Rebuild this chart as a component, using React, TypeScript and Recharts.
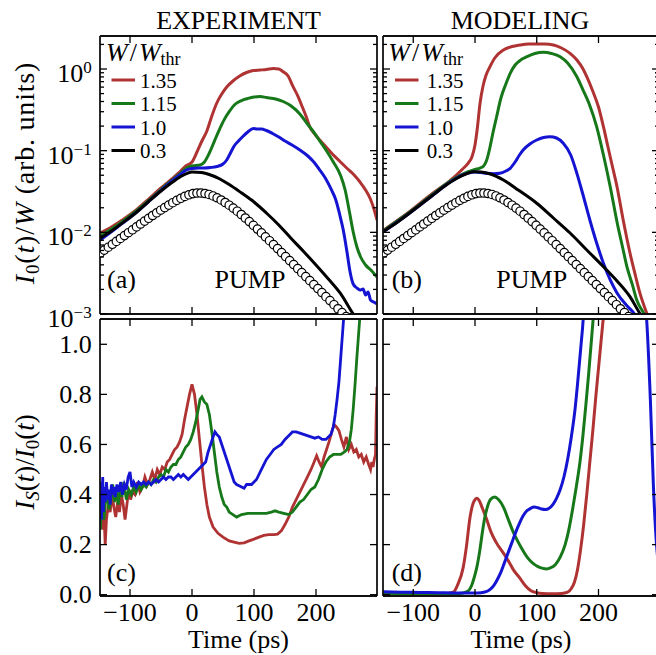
import React from 'react';
import { ComposedChart, Line, XAxis, YAxis } from 'recharts';

const FONT = "'Liberation Serif', 'Times New Roman', Times, serif";
const RED = '#b03333';
const GREEN = '#17781a';
const BLUE = '#1414d2';
const BLACK = '#000000';

type Pt = [number, number];

// ---------- tick labels / categories ----------
const timeTicks = [-100, 0, 100, 200];
const ratioTicks = [0, 0.2, 0.4, 0.6, 0.8, 1.0];
const logMajor = [1e-3, 1e-2, 1e-1, 1];
const logMinor = [
  2e-3, 3e-3, 4e-3, 5e-3, 6e-3, 7e-3, 8e-3, 9e-3,
  2e-2, 3e-2, 4e-2, 5e-2, 6e-2, 7e-2, 8e-2, 9e-2,
  0.2, 0.3, 0.4, 0.5, 0.6, 0.7, 0.8, 0.9, 2,
];
const legendLabels = ['1.35', '1.15', '1.0', '0.3'];
const legendColors = [RED, GREEN, BLUE, BLACK];

// ---------- pump pulse (open circles), same in (a) and (b) ----------
const pump: Pt[] = [
  [-148, 5.58e-3], [-141.5, 6.06e-3], [-135, 6.58e-3], [-128.5, 7.14e-3], [-122, 7.74e-3],
  [-115.5, 8.41e-3], [-109, 9.12e-3], [-102.5, 9.9e-3], [-96, 1.074e-2], [-89.5, 1.166e-2],
  [-83, 1.265e-2], [-76.5, 1.373e-2], [-70, 1.486e-2], [-63.5, 1.608e-2], [-57, 1.735e-2],
  [-50.5, 1.867e-2], [-44, 2.009e-2], [-37.5, 2.156e-2], [-31, 2.306e-2], [-24.5, 2.461e-2],
  [-18, 2.611e-2], [-11.5, 2.754e-2], [-5, 2.881e-2], [1.5, 2.98e-2], [8, 3.03e-2],
  [14.5, 3.03e-2], [21, 2.99e-2], [27.5, 2.91e-2], [34, 2.79e-2], [40.5, 2.65e-2],
  [47, 2.49e-2], [53.5, 2.32e-2], [60, 2.15e-2], [66.5, 1.98e-2], [73, 1.815e-2],
  [79.5, 1.654e-2], [86, 1.498e-2], [92.5, 1.354e-2], [99, 1.219e-2], [105.5, 1.096e-2],
  [112, 9.84e-3], [118.5, 8.82e-3], [125, 7.9e-3], [131.5, 7.08e-3], [138, 6.32e-3],
  [144.5, 5.65e-3], [151, 5.05e-3], [157.5, 4.51e-3], [164, 4.03e-3], [170.5, 3.6e-3],
  [177, 3.21e-3], [183.5, 2.87e-3], [190, 2.56e-3], [196.5, 2.29e-3], [203, 2.05e-3],
  [209.5, 1.83e-3], [216, 1.63e-3], [222.5, 1.46e-3], [229, 1.3e-3], [235.5, 1.16e-3],
  [242, 1.04e-3], [248.5, 0.93e-3], [255, 0.83e-3],
];

// ---------- (a) experiment, I0/W ----------
const expRed: Pt[] = [
  [-148, 9.81e-3], [-130, 1.162e-2], [-110, 1.457e-2], [-90, 1.877e-2], [-70, 2.559e-2],
  [-50, 3.49e-2], [-40, 4.018e-2], [-30, 4.69e-2], [-20, 5.48e-2], [-10, 6.49e-2],
  [0, 7.27e-2], [8, 9.63e-2], [16, 0.1313], [24, 0.1741], [32, 0.2658], [40, 0.3835],
  [48, 0.4941], [56, 0.6018], [66, 0.7131], [77, 0.821], [88, 0.906], [99, 0.9586],
  [110, 0.9722], [120, 0.986], [131, 1.014], [140, 1.0], [147, 0.927], [155, 0.821],
  [163, 0.607], [170, 0.48], [178, 0.3425], [185, 0.2512], [190, 0.1949], [198, 0.16],
  [206, 0.1351], [217, 0.1093], [228, 8.85e-2], [238, 7.47e-2], [249.5, 6.13e-2],
  [260, 5.18e-2], [271, 4.13e-2], [280, 3.3e-2], [287, 2.633e-2], [293, 1.987e-2], [298.4, 1.416e-2],
];
const expGreen: Pt[] = [
  [-148, 9.02e-3], [-120, 1.23e-2], [-90, 1.825e-2], [-60, 2.865e-2], [-40, 3.907e-2],
  [-20, 5.18e-2], [-9, 6.13e-2], [0, 6.49e-2], [13, 6.675e-2], [20, 7.266e-2],
  [28, 9.36e-2], [36, 0.13], [44, 0.18], [52, 0.24], [60, 0.3], [70, 0.3727],
  [80, 0.4114], [90, 0.4352], [100, 0.4542], [110, 0.4606], [120, 0.4478], [135, 0.4292],
  [147, 0.4], [160, 0.3524], [174, 0.2812], [185, 0.2182], [195, 0.1741], [205, 0.1351],
  [215, 0.1048], [228, 7.27e-2], [240, 4.896e-2], [247, 3.299e-2], [254, 1.774e-2],
  [260, 1.01e-2], [266, 6.61e-3], [272, 4.99e-3], [280, 3.98e-3], [290, 3.36e-3], [298.4, 2.84e-3],
];
const expBlue: Pt[] = [
  [-148, 8.06e-3], [-120, 1.162e-2], [-90, 1.749e-2], [-60, 2.786e-2], [-40, 3.8e-2],
  [-20, 5.036e-2], [-9, 5.8e-2], [0, 6.05e-2], [10, 6.13e-2], [20, 6.13e-2], [30, 6.22e-2],
  [40, 6.4e-2], [50, 6.87e-2], [56, 7.69e-2], [62, 9.36e-2], [68, 0.1141], [75, 0.1313],
  [82, 0.1491], [90, 0.1693], [99, 0.1868], [105, 0.1842], [112, 0.1842], [120, 0.1766],
  [130, 0.1623], [140, 0.147], [150, 0.1313], [160, 0.119], [174, 0.1019], [185, 8.85e-2],
  [195, 7.47e-2], [205, 5.96e-2], [215, 4.63e-2], [225, 3.3e-2], [232, 2.49e-2], [238, 1.677e-2],
  [244, 1.068e-2], [250, 5.74e-3], [255, 3.27e-3], [260, 2.33e-3], [266, 2.08e-3], [271, 1.97e-3],
  [276, 2.02e-3], [280, 1.71e-3], [284, 1.86e-3], [288, 1.48e-3], [293, 1.4e-3], [298.4, 1.33e-3],
];
const expBlack: Pt[] = [
  [-148, 8.45e-3], [-130, 1.038e-2], [-110, 1.339e-2], [-90, 1.749e-2], [-70, 2.385e-2],
  [-50, 3.208e-2], [-30, 4.194e-2], [-15, 4.966e-2], [0, 5.48e-2], [15, 5.4e-2], [30, 5.036e-2],
  [45, 4.5e-2], [60, 3.853e-2], [80, 3.03e-2], [100, 2.352e-2], [120, 1.725e-2], [140, 1.23e-2],
  [160, 8.41e-3], [180, 5.83e-3], [200, 3.98e-3], [220, 2.68e-3], [240, 1.76e-3], [260, 1.0e-3], [270, 0.8e-3],
];

// ---------- (b) modeling, I0/W ----------
const modRed: Pt[] = [
  [-149, 1.053e-2], [-110, 1.701e-2], [-70, 2.947e-2], [-40, 4.313e-2], [-20, 5.96e-2],
  [-11, 7.06e-2], [-5, 8.37e-2], [0, 0.1173], [4, 0.1949], [8, 0.3727], [13, 0.6193],
  [18, 0.8444], [24, 1.058], [32, 1.364], [46, 1.709], [60, 1.886], [73, 1.968], [86, 2.024],
  [100, 2.024], [113, 2.024], [127, 1.968], [140, 1.808], [154, 1.557], [165, 1.289],
  [175, 1.0], [181, 0.805], [190, 0.5531], [200, 0.3425], [208, 0.1966], [215, 0.1141],
  [222, 6.675e-2], [230, 3.62e-2], [240, 1.416e-2], [251, 5.58e-3], [260, 2.92e-3],
  [267, 1.81e-3], [278, 1.03e-3], [285, 0.734e-3],
];
const modGreen: Pt[] = [
  [-149, 1.038e-2], [-110, 1.677e-2], [-70, 2.865e-2], [-40, 4.252e-2], [-20, 5.18e-2],
  [0, 5.88e-2], [8, 6.13e-2], [14, 6.49e-2], [19, 7.69e-2], [24, 0.1078], [29, 0.1646],
  [35, 0.2605], [42, 0.4415], [50, 0.6551], [57, 0.8857], [65, 1.119], [75, 1.307],
  [84, 1.414], [97, 1.548], [111, 1.602], [124, 1.548], [138, 1.414], [150, 1.184],
  [165, 0.805], [175, 0.5531], [185, 0.3727], [197, 0.1966], [208, 8.85e-2], [219, 3.62e-2],
  [230, 1.339e-2], [240, 6.08e-3], [246, 3.8e-3], [255, 2.27e-3], [262, 1.48e-3],
  [273, 1.03e-3], [280, 0.8e-3],
];
const modBlue: Pt[] = [
  [-149, 1.01e-2], [-110, 1.631e-2], [-70, 2.786e-2], [-40, 4.13e-2], [-20, 5.036e-2],
  [0, 5.48e-2], [10, 5.4e-2], [19, 5.283e-2], [30, 5.21e-2], [40, 5.283e-2], [50, 5.64e-2],
  [57, 6.08e-2], [65, 7.27e-2], [72, 8.85e-2], [78, 0.1019], [89, 0.1207], [100, 0.1351],
  [111, 0.145], [121.6, 0.1483], [132, 0.1429], [143, 0.1231], [155, 8.85e-2], [165, 5.28e-2],
  [175, 2.865e-2], [186, 1.416e-2], [197, 7.41e-3], [208, 4.18e-3], [219, 2.61e-3],
  [230, 1.81e-3], [245, 1.29e-3], [257, 1.03e-3], [265, 0.845e-3],
];
const modBlack: Pt[] = [
  [-149, 1.018e-2], [-130, 1.265e-2], [-110, 1.631e-2], [-90, 2.131e-2], [-70, 2.786e-2],
  [-50, 3.641e-2], [-30, 4.562e-2], [-15, 5.18e-2], [-3, 5.53e-2], [10, 5.48e-2], [25, 5.18e-2],
  [46, 4.375e-2], [70, 3.3e-2], [100, 2.268e-2], [127, 1.498e-2], [154, 9.81e-3], [181, 6.08e-3],
  [208, 3.8e-3], [230, 2.54e-3], [251, 1.63e-3], [267, 1.02e-3], [275, 0.845e-3],
];

// ---------- (c) experiment, IS/I0 ----------
const ratioExpRed: Pt[] = [
  [-148, 0.3], [-146, 0.38], [-144, 0.26], [-142, 0.33], [-140, 0.2], [-138, 0.3], [-135, 0.36],
  [-132, 0.33], [-129, 0.4], [-126, 0.35], [-123, 0.31], [-120, 0.37], [-117, 0.33], [-114, 0.4],
  [-111, 0.36], [-108, 0.3], [-105, 0.36], [-102, 0.42], [-99, 0.38], [-96, 0.41], [-92, 0.4],
  [-88, 0.45], [-84, 0.41], [-80, 0.43], [-76, 0.47], [-72, 0.44], [-68, 0.46], [-64, 0.49],
  [-60, 0.46], [-56, 0.5], [-52, 0.48], [-48, 0.51], [-44, 0.5], [-40, 0.53], [-36, 0.54],
  [-32, 0.56], [-28, 0.58], [-24, 0.59], [-20, 0.61], [-16, 0.64], [-12, 0.7], [-8, 0.75],
  [-4, 0.8], [0, 0.84], [4, 0.8], [8, 0.72], [12, 0.62], [16, 0.52], [20, 0.43], [24, 0.36],
  [28, 0.31], [34, 0.27], [42, 0.245], [50, 0.23], [60, 0.215], [68, 0.21], [76, 0.205],
  [84, 0.207], [92, 0.215], [100, 0.222], [108, 0.23], [116, 0.237], [124, 0.24], [132, 0.24],
  [138, 0.242], [144, 0.255], [150, 0.28], [156, 0.31], [162, 0.35], [168, 0.38], [174, 0.41],
  [180, 0.44], [186, 0.47], [192, 0.5], [197, 0.53], [201, 0.555], [205, 0.53], [209, 0.51],
  [213, 0.55], [217, 0.58], [221, 0.61], [225, 0.645], [229, 0.68], [233, 0.67], [237, 0.655],
  [241, 0.62], [245, 0.59], [249, 0.63], [253, 0.58], [257, 0.6], [261, 0.57], [265, 0.58],
  [269, 0.55], [273, 0.56], [277, 0.53], [281, 0.55], [285, 0.52], [288, 0.5], [290, 0.53],
  [292, 0.51], [294, 0.54], [296, 0.56], [297, 0.7], [298.4, 0.83],
];
const ratioExpGreen: Pt[] = [
  [-148, 0.26], [-146, 0.33], [-144, 0.4], [-142, 0.3], [-140, 0.36], [-137, 0.42], [-134, 0.34],
  [-131, 0.38], [-128, 0.44], [-125, 0.37], [-122, 0.41], [-119, 0.36], [-116, 0.43], [-113, 0.39],
  [-110, 0.45], [-106, 0.38], [-102, 0.42], [-98, 0.4], [-94, 0.43], [-90, 0.41], [-86, 0.44],
  [-82, 0.42], [-78, 0.44], [-74, 0.43], [-70, 0.45], [-66, 0.44], [-62, 0.46], [-58, 0.45],
  [-54, 0.47], [-50, 0.48], [-46, 0.47], [-42, 0.5], [-38, 0.49], [-34, 0.51], [-30, 0.52],
  [-26, 0.52], [-22, 0.54], [-18, 0.55], [-14, 0.57], [-10, 0.59], [-6, 0.6], [-2, 0.62],
  [2, 0.65], [6, 0.69], [10, 0.74], [13, 0.78], [16, 0.79], [20, 0.77], [24, 0.76], [28, 0.72],
  [32, 0.65], [36, 0.57], [40, 0.49], [44, 0.43], [48, 0.39], [52, 0.36], [56, 0.35], [60, 0.33],
  [66, 0.32], [72, 0.31], [80, 0.32], [90, 0.325], [100, 0.325], [110, 0.325], [120, 0.325],
  [128, 0.33], [134, 0.335], [140, 0.33], [148, 0.325], [156, 0.32], [162, 0.33], [168, 0.35],
  [174, 0.37], [180, 0.38], [186, 0.4], [192, 0.42], [198, 0.43], [204, 0.46], [210, 0.5],
  [216, 0.53], [222, 0.55], [228, 0.56], [234, 0.56], [240, 0.56], [246, 0.57], [250, 0.58],
  [254, 0.61], [257, 0.66], [260, 0.74], [263, 0.84], [266, 0.95], [269, 1.05], [272, 1.15],
];
const ratioExpBlue: Pt[] = [
  [-148, 0.35], [-147, 0.45], [-146, 0.3], [-145, 0.4], [-144, 0.47], [-143, 0.33], [-142, 0.43],
  [-140, 0.37], [-138, 0.45], [-136, 0.38], [-134, 0.42], [-132, 0.36], [-130, 0.44], [-128, 0.4],
  [-126, 0.43], [-124, 0.39], [-121, 0.44], [-118, 0.41], [-115, 0.45], [-112, 0.4], [-109, 0.44],
  [-106, 0.42], [-103, 0.47], [-100, 0.49], [-97, 0.43], [-94, 0.45], [-90, 0.43], [-86, 0.45],
  [-82, 0.44], [-78, 0.45], [-74, 0.44], [-70, 0.45], [-66, 0.44], [-62, 0.45], [-58, 0.46],
  [-54, 0.45], [-50, 0.46], [-46, 0.47], [-42, 0.46], [-38, 0.47], [-34, 0.47], [-30, 0.46],
  [-26, 0.47], [-22, 0.48], [-18, 0.47], [-14, 0.48], [-10, 0.47], [-6, 0.46], [-2, 0.47],
  [2, 0.48], [6, 0.49], [10, 0.5], [14, 0.51], [18, 0.52], [22, 0.53], [26, 0.57], [30, 0.6],
  [34, 0.63], [37, 0.65], [40, 0.64], [44, 0.63], [48, 0.6], [52, 0.57], [56, 0.54], [60, 0.51],
  [64, 0.48], [68, 0.45], [72, 0.44], [76, 0.435], [80, 0.43], [84, 0.425], [88, 0.44], [92, 0.44],
  [96, 0.44], [100, 0.45], [104, 0.46], [108, 0.48], [112, 0.5], [116, 0.52], [120, 0.54],
  [126, 0.56], [132, 0.58], [138, 0.59], [144, 0.6], [150, 0.62], [156, 0.635], [162, 0.65],
  [168, 0.65], [174, 0.645], [180, 0.64], [186, 0.635], [192, 0.63], [198, 0.625], [204, 0.63],
  [210, 0.62], [216, 0.62], [220, 0.63], [224, 0.64], [228, 0.67], [231, 0.72], [234, 0.78],
  [237, 0.85], [240, 0.95], [243, 1.05], [246, 1.15],
];

// ---------- (d) modeling, IS/I0 ----------
const ratioModRed: Pt[] = [
  [-149, 0.004], [-100, 0.004], [-60, 0.004], [-45, 0.005], [-35, 0.01], [-28, 0.04],
  [-19, 0.11], [-14, 0.19], [-8, 0.31], [-3, 0.365], [0, 0.38], [3, 0.385], [7, 0.375],
  [12, 0.345], [19, 0.3], [26, 0.25], [34, 0.21], [46, 0.166], [54, 0.135], [62, 0.1],
  [73, 0.065], [82, 0.035], [90, 0.017], [100, 0.008], [110, 0.005], [125, 0.004], [140, 0.005],
  [150, 0.01], [156, 0.025], [161, 0.05], [166, 0.1], [171, 0.18], [176, 0.28], [181, 0.4],
  [186, 0.53], [191, 0.66], [196, 0.8], [201, 0.93], [206, 1.06], [210, 1.16],
];
const ratioModGreen: Pt[] = [
  [-149, 0.004], [-60, 0.004], [-25, 0.005], [-13, 0.012], [-5, 0.04], [0, 0.08], [3, 0.11],
  [8, 0.18], [12, 0.25], [16, 0.31], [20, 0.35], [25, 0.38], [32, 0.39], [38, 0.38], [46, 0.35],
  [54, 0.3], [62, 0.25], [70, 0.21], [78, 0.175], [86, 0.145], [94, 0.125], [102, 0.112],
  [110, 0.105], [116, 0.103], [122, 0.107], [130, 0.12], [138, 0.15], [146, 0.2], [152, 0.26],
  [158, 0.34], [164, 0.43], [170, 0.53], [175, 0.64], [180, 0.77], [184, 0.88], [188, 1.0], [192, 1.12],
];
const ratioModBlue: Pt[] = [
  [-149, 0.012], [-120, 0.01], [-90, 0.009], [-60, 0.008], [-30, 0.007], [0, 0.007], [10, 0.008],
  [18, 0.012], [24, 0.02], [30, 0.035], [36, 0.06], [42, 0.09], [48, 0.13], [54, 0.17], [60, 0.21],
  [66, 0.25], [72, 0.285], [78, 0.315], [84, 0.335], [90, 0.345], [96, 0.35], [102, 0.347],
  [108, 0.342], [114, 0.34], [120, 0.345], [126, 0.36], [132, 0.385], [138, 0.42], [144, 0.47],
  [150, 0.54], [156, 0.63], [162, 0.74], [166, 0.84], [170, 0.95], [174, 1.06], [178, 1.17],
  [272, 1.25], [278, 1.1], [284, 0.78], [289, 0.43], [294, 0.2], [298, 0.1],
];

// ---------- helpers ----------
const toRows = (pts: Pt[]) => pts.map(([t, v]) => ({ t, v }));
const fmtTime = (v: number) => (v < 0 ? '\u2212' + Math.abs(v) : String(v));
const isMajorLog = (v: number) => Math.abs(Math.log10(v) - Math.round(Math.log10(v))) < 1e-6;
const expText = (v: number) => {
  const e = Math.round(Math.log10(v));
  return e < 0 ? '\u2212' + Math.abs(e) : String(e);
};

const TICK_W = 1.3;
const MAJ = 7;
const MIN = 4;

const bottomTick = (label: boolean) => (p: any) => (
  <g>
    <line x1={p.x} x2={p.x} y1={p.y} y2={p.y - MAJ} stroke="#000" strokeWidth={TICK_W} />
    {label && (
      <text x={p.x} y={p.y + 25} textAnchor="middle" fontSize={26} fontFamily={FONT} fill="#000">
        {fmtTime(p.payload.value)}
      </text>
    )}
  </g>
);
const topTick = (p: any) => (
  <line x1={p.x} x2={p.x} y1={p.y} y2={p.y + MAJ} stroke="#000" strokeWidth={TICK_W} />
);
const leftTick = (log: boolean, label: boolean) => (p: any) => {
  const v = p.payload.value;
  const major = log ? isMajorLog(v) : true;
  return (
    <g>
      <line x1={p.x} x2={p.x + (major ? MAJ : MIN)} y1={p.y} y2={p.y} stroke="#000" strokeWidth={TICK_W} />
      {label && major && !log && (
        <text x={p.x - 8.3} y={p.y + 8.7} textAnchor="end" fontSize={26} fontFamily={FONT} fill="#000">
          {v.toFixed(1)}
        </text>
      )}
      {label && major && log && (
        <text x={p.x - 8.3} y={p.y + 13} textAnchor="end" fontSize={26} fontFamily={FONT} fill="#000">
          <tspan>10</tspan>
          <tspan fontSize={17} dy={-9}>{expText(v)}</tspan>
        </text>
      )}
    </g>
  );
};
const rightTick = (log: boolean) => (p: any) => {
  const v = p.payload.value;
  const major = log ? isMajorLog(v) : true;
  return <line x1={p.x} x2={p.x - (major ? MAJ : MIN)} y1={p.y} y2={p.y} stroke="#000" strokeWidth={TICK_W} />;
};

type Series = { pts: Pt[]; color: string; width?: number; dots?: boolean; curve?: 'monotone' | 'linear' };

type PanelProps = {
  left: number; top: number; width: number; height: number;
  margin: { top: number; left: number; right: number; bottom: number };
  xDomain: [number, number];
  log: boolean;
  xLabels: boolean;
  yLabels: boolean;
  series: Series[];
};

const AXIS_LINE = { stroke: '#111', strokeWidth: 1.8 };

function Panel({ left, top, width, height, margin, xDomain, log, xLabels, yLabels, series }: PanelProps) {
  const yDomain: [number, number] = log ? [0.001, 2.536] : [-0.0052, 1.101];
  const yTicks = log ? [...logMajor, ...logMinor] : ratioTicks;
  return (
    <div style={{ position: 'absolute', left, top, width, height }}>
      <ComposedChart width={width} height={height} margin={margin}>
        <XAxis
          type="number" dataKey="t" domain={xDomain} allowDataOverflow ticks={timeTicks} interval={0}
          height={1} tickSize={0} tickMargin={0} tickLine={false} axisLine={AXIS_LINE}
          tick={bottomTick(xLabels)} orientation="bottom"
        />
        <XAxis
          xAxisId="top" type="number" dataKey="t" domain={xDomain} allowDataOverflow ticks={timeTicks} interval={0}
          height={1} tickSize={0} tickMargin={0} tickLine={false} axisLine={AXIS_LINE}
          tick={topTick} orientation="top"
        />
        <YAxis
          type="number" scale={log ? 'log' : 'linear'} domain={yDomain} allowDataOverflow ticks={yTicks} interval={0}
          width={1} tickSize={0} tickMargin={0} tickLine={false} axisLine={AXIS_LINE}
          tick={leftTick(log, yLabels)} orientation="left"
        />
        <YAxis
          yAxisId="right" type="number" scale={log ? 'log' : 'linear'} domain={yDomain} allowDataOverflow ticks={yTicks} interval={0}
          width={1} tickSize={0} tickMargin={0} tickLine={false} axisLine={AXIS_LINE}
          tick={rightTick(log)} orientation="right"
        />
        {series.map((s, i) =>
          s.dots ? (
            <Line
              key={i} data={toRows(s.pts)} dataKey="v" type="linear" stroke="none"
              dot={{ r: 4.2, fill: '#fff', stroke: '#000', strokeWidth: 1.2 }}
              activeDot={false} isAnimationActive={false}
            />
          ) : (
            <Line
              key={i} data={toRows(s.pts)} dataKey="v" type={s.curve || 'monotone'} stroke={s.color}
              strokeWidth={s.width || 3} dot={false} activeDot={false} isAnimationActive={false}
            />
          )
        )}
      </ComposedChart>
    </div>
  );
}

const rowY = [80, 103.5, 127, 150.5];

function LegendBlock({ x, lineX, textX }: { x: number; lineX: number; textX: number }) {
  return (
    <g>
      <text x={x} y={61} fontSize={26} fontFamily={FONT}>
        <tspan fontStyle="italic">W</tspan>
        <tspan dx={2}>/</tspan>
        <tspan dx={2} fontStyle="italic">W</tspan>
        <tspan fontSize={18} dy={4}>thr</tspan>
      </text>
      {legendLabels.map((lab, i) => (
        <g key={lab}>
          <line x1={lineX} x2={lineX + 23.5} y1={rowY[i]} y2={rowY[i]} stroke={legendColors[i]} strokeWidth={3} />
          <text x={textX} y={rowY[i] + 7.5} fontSize={21} fontFamily={FONT}>{lab}</text>
        </g>
      ))}
    </g>
  );
}

export default function App() {
  const topMargin = { top: 35, left: 99, right: 2, bottom: 25 };
  const botMargin = { top: 18, left: 99, right: 2, bottom: 58 };
  const topMarginR = { top: 35, left: 12, right: 0, bottom: 25 };
  const botMarginR = { top: 18, left: 12, right: 0, bottom: 58 };
  const xA: [number, number] = [-148.4, 298.4];
  const xB: [number, number] = [-149, 298];
  return (
    <div
      style={{
        position: 'absolute', left: 0, top: 0, width: 656, height: 655,
        overflow: 'hidden', background: '#fff', fontFamily: FONT,
      }}
    >
      <Panel
        left={0} top={0} width={380} height={340} margin={topMargin} xDomain={xA} log xLabels={false} yLabels
        series={[
          { pts: pump, color: BLACK, dots: true },
          { pts: expRed, color: RED },
          { pts: expGreen, color: GREEN },
          { pts: expBlue, color: BLUE },
          { pts: expBlack, color: BLACK },
        ]}
      />
      <Panel
        left={370} top={0} width={290} height={340} margin={topMarginR} xDomain={xB} log xLabels={false} yLabels={false}
        series={[
          { pts: pump, color: BLACK, dots: true },
          { pts: modRed, color: RED },
          { pts: modGreen, color: GREEN },
          { pts: modBlue, color: BLUE },
          { pts: modBlack, color: BLACK },
        ]}
      />
      <Panel
        left={0} top={300} width={380} height={355} margin={botMargin} xDomain={xA} log={false} xLabels yLabels
        series={[
          { pts: ratioExpRed, color: RED, curve: 'linear', width: 2.8 },
          { pts: ratioExpGreen, color: GREEN, curve: 'linear', width: 2.8 },
          { pts: ratioExpBlue, color: BLUE, curve: 'linear', width: 2.8 },
        ]}
      />
      <Panel
        left={370} top={300} width={290} height={355} margin={botMarginR} xDomain={xB} log={false} xLabels yLabels={false}
        series={[
          { pts: ratioModRed, color: RED },
          { pts: ratioModGreen, color: GREEN },
          { pts: ratioModBlue, color: BLUE },
        ]}
      />
      <svg width={656} height={655} style={{ position: 'absolute', left: 0, top: 0, pointerEvents: 'none' }}>
        <g fontFamily={FONT} fill="#000">
          <text x={238.5} y={29} textAnchor="middle" fontSize={26}>EXPERIMENT</text>
          <text x={520} y={29} textAnchor="middle" fontSize={26}>MODELING</text>

          <text transform="translate(34,173) rotate(-90)" textAnchor="middle" fontSize={28} letterSpacing={0.8}>
            <tspan fontStyle="italic">I</tspan>
            <tspan fontSize={19} dy={5}>0</tspan>
            <tspan dy={-5}>(</tspan>
            <tspan fontStyle="italic">t</tspan>
            <tspan>)/</tspan>
            <tspan fontStyle="italic">W</tspan>
            <tspan> (arb. units)</tspan>
          </text>
          <text transform="translate(34,462) rotate(-90)" textAnchor="middle" fontSize={27}>
            <tspan fontStyle="italic">I</tspan>
            <tspan fontSize={19} dy={5} fontStyle="italic">S</tspan>
            <tspan dy={-5}>(</tspan>
            <tspan fontStyle="italic">t</tspan>
            <tspan>)/</tspan>
            <tspan fontStyle="italic">I</tspan>
            <tspan fontSize={19} dy={5}>0</tspan>
            <tspan dy={-5}>(</tspan>
            <tspan fontStyle="italic">t</tspan>
            <tspan>)</tspan>
          </text>

          <LegendBlock x={106} lineX={111.5} textX={140} />
          <LegendBlock x={388.3} lineX={395} textX={426.7} />

          <text x={107} y={288} fontSize={26}>(a)</text>
          <text x={250} y={288} fontSize={26} textAnchor="middle">PUMP</text>
          <text x={391.7} y={288} fontSize={26}>(b)</text>
          <text x={531.7} y={288} fontSize={26} textAnchor="middle">PUMP</text>
          <text x={107} y={581} fontSize={26}>(c)</text>
          <text x={391.7} y={581} fontSize={26}>(d)</text>

          <text x={238.5} y={648} textAnchor="middle" fontSize={26}>Time (ps)</text>
          <text x={521} y={648} textAnchor="middle" fontSize={26}>Time (ps)</text>
        </g>
      </svg>
    </div>
  );
}
